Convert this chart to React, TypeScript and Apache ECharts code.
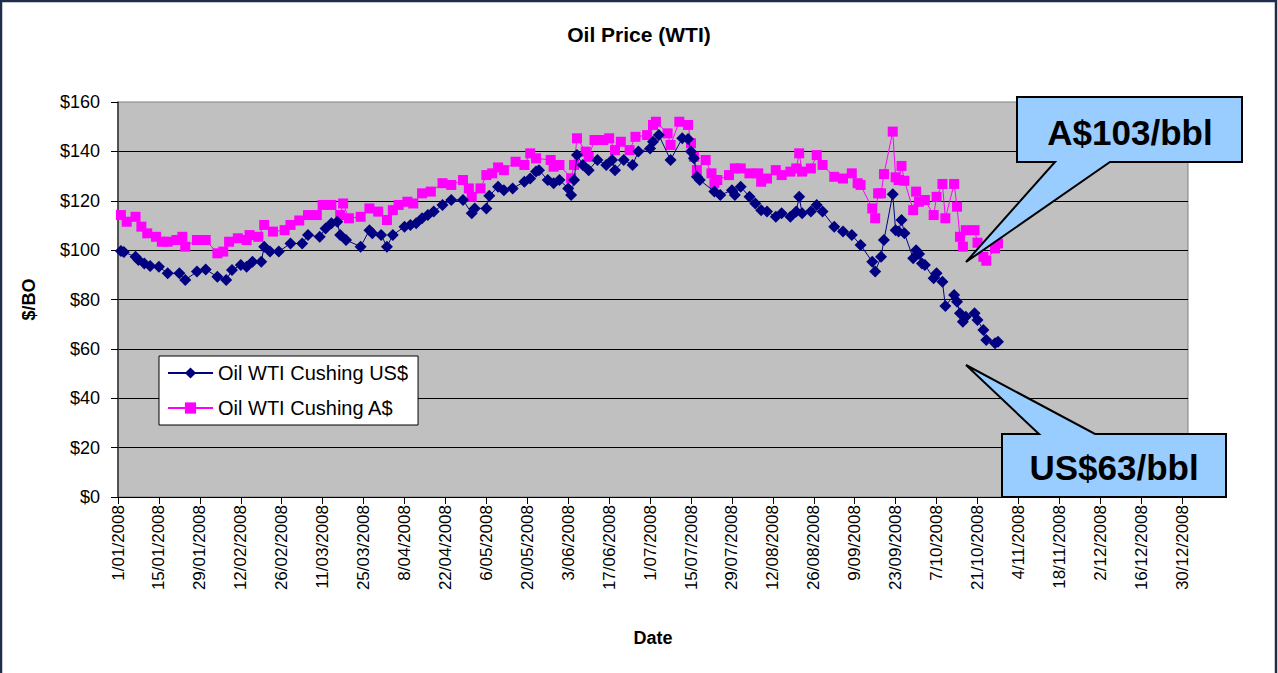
import React, { useEffect, useRef } from "react";
import * as echarts from "echarts";

const chartTitle = "Oil Price (WTI)";
const usName = "Oil WTI Cushing US$";
const audName = "Oil WTI Cushing A$";

const usDates = [
  "2008-01-02","2008-01-03","2008-01-07","2008-01-08","2008-01-10","2008-01-12","2008-01-15","2008-01-18","2008-01-22","2008-01-24",
  "2008-01-28","2008-01-31","2008-02-04","2008-02-07","2008-02-09","2008-02-12","2008-02-14","2008-02-16","2008-02-19","2008-02-20",
  "2008-02-22","2008-02-25","2008-02-29","2008-03-04","2008-03-06","2008-03-10","2008-03-12","2008-03-14","2008-03-16","2008-03-17",
  "2008-03-19","2008-03-24","2008-03-27","2008-03-28","2008-03-31","2008-04-02","2008-04-04","2008-04-08","2008-04-10","2008-04-12",
  "2008-04-14","2008-04-16","2008-04-18","2008-04-21","2008-04-24","2008-04-28","2008-05-01","2008-05-02","2008-05-06","2008-05-07",
  "2008-05-10","2008-05-12","2008-05-15","2008-05-19","2008-05-21","2008-05-23","2008-05-24","2008-05-27","2008-05-29","2008-05-31",
  "2008-06-03","2008-06-04","2008-06-05","2008-06-06","2008-06-08","2008-06-10","2008-06-13","2008-06-16","2008-06-18","2008-06-19",
  "2008-06-22","2008-06-25","2008-06-27","2008-07-01","2008-07-02","2008-07-04","2008-07-08","2008-07-12","2008-07-14","2008-07-15",
  "2008-07-16","2008-07-17","2008-07-18","2008-07-23","2008-07-25","2008-07-29","2008-07-30","2008-08-01","2008-08-04","2008-08-06",
  "2008-08-08","2008-08-10","2008-08-13","2008-08-15","2008-08-18","2008-08-20","2008-08-21","2008-08-22","2008-08-25","2008-08-27",
  "2008-08-29","2008-09-02","2008-09-05","2008-09-08","2008-09-11","2008-09-15","2008-09-16","2008-09-18","2008-09-19","2008-09-22",
  "2008-09-23","2008-09-24","2008-09-25","2008-09-26","2008-09-29","2008-09-30","2008-10-01","2008-10-02","2008-10-03","2008-10-06",
  "2008-10-07","2008-10-09","2008-10-10","2008-10-13","2008-10-14","2008-10-15","2008-10-16","2008-10-17","2008-10-20","2008-10-21",
  "2008-10-23","2008-10-24","2008-10-27","2008-10-28"
];
const usValues = [
  99.6,99.2,97.3,96.0,94.6,93.6,93.3,90.6,90.6,87.9,
  91.3,92.2,89.2,87.9,91.9,94.0,93.3,95.3,95.3,101.4,
  99.4,99.4,102.7,102.7,106.1,105.4,108.8,110.9,111.5,106.1,
  104.1,101.4,108.1,106.8,106.1,101.4,106.1,109.5,110.2,110.9,
  112.9,114.2,115.6,118.3,120.3,120.3,114.9,116.9,116.9,122.0,
  125.7,124.3,125.0,127.7,129.0,131.8,132.4,128.4,127.1,128.4,
  125.0,122.3,128.4,138.5,134.5,132.4,136.5,134.5,136.5,132.4,
  136.5,134.5,139.9,141.2,143.9,146.6,136.5,145.3,145.0,139.9,
  137.2,129.7,128.4,123.7,122.3,124.3,122.3,125.7,121.6,118.9,
  116.2,115.6,113.5,114.9,113.5,115.6,121.6,114.9,115.6,118.3,
  115.6,109.5,107.5,106.1,102.1,95.3,91.3,97.3,104.1,122.6,
  108.1,107.5,112.2,106.8,96.7,100.0,98.4,94.6,94.0,88.6,
  90.6,87.2,77.4,81.8,79.1,74.4,71.0,73.0,74.4,71.7,
  67.6,63.6,62.3,62.9
];

const audDates = [
  "2008-01-02","2008-01-04","2008-01-07","2008-01-09","2008-01-11","2008-01-14","2008-01-16","2008-01-18","2008-01-21","2008-01-23",
  "2008-01-24","2008-01-28","2008-01-31","2008-02-04","2008-02-06","2008-02-08","2008-02-11","2008-02-14","2008-02-15","2008-02-18",
  "2008-02-20","2008-02-23","2008-02-27","2008-02-29","2008-03-03","2008-03-06","2008-03-09","2008-03-11","2008-03-14","2008-03-17",
  "2008-03-18","2008-03-20","2008-03-24","2008-03-27","2008-03-30","2008-04-02","2008-04-04","2008-04-06","2008-04-09","2008-04-11",
  "2008-04-14","2008-04-17","2008-04-21","2008-04-24","2008-04-28","2008-04-30","2008-05-01","2008-05-04","2008-05-06","2008-05-08",
  "2008-05-10","2008-05-12","2008-05-16","2008-05-19","2008-05-21","2008-05-23","2008-05-28","2008-05-29","2008-05-31","2008-06-04",
  "2008-06-05","2008-06-06","2008-06-09","2008-06-10","2008-06-12","2008-06-15","2008-06-17","2008-06-19","2008-06-21","2008-06-24",
  "2008-06-26","2008-06-30","2008-07-02","2008-07-03","2008-07-07","2008-07-08","2008-07-11","2008-07-14","2008-07-15","2008-07-16",
  "2008-07-17","2008-07-20","2008-07-22","2008-07-23","2008-07-24","2008-07-28","2008-07-30","2008-08-01","2008-08-04","2008-08-07",
  "2008-08-08","2008-08-10","2008-08-13","2008-08-15","2008-08-18","2008-08-20","2008-08-21","2008-08-22","2008-08-25","2008-08-27",
  "2008-08-29","2008-09-02","2008-09-05","2008-09-08","2008-09-10","2008-09-11","2008-09-15","2008-09-16","2008-09-17","2008-09-18",
  "2008-09-19","2008-09-22","2008-09-23","2008-09-24","2008-09-25","2008-09-26","2008-09-29","2008-09-30","2008-10-01","2008-10-03",
  "2008-10-06","2008-10-07","2008-10-09","2008-10-10","2008-10-13","2008-10-14","2008-10-15","2008-10-16","2008-10-17","2008-10-20",
  "2008-10-21","2008-10-23","2008-10-24","2008-10-27","2008-10-28"
];
const audValues = [
  114.2,111.5,113.5,109.5,106.8,105.4,103.4,103.4,104.1,105.4,
  101.4,104.1,104.1,98.7,99.4,103.4,104.8,104.1,106.1,105.4,
  110.2,107.5,108.1,110.2,112.0,114.2,114.2,118.3,118.3,114.2,
  118.9,112.9,113.5,116.9,115.6,112.2,116.2,118.3,119.6,118.9,
  123.0,123.7,127.1,126.4,128.4,125.0,121.6,125.0,130.4,131.1,
  133.5,132.4,135.8,134.5,139.2,137.2,136.5,133.8,134.5,129.1,
  134.5,145.3,139.9,137.8,144.6,144.6,145.3,140.5,143.9,140.5,
  145.9,146.6,150.7,152.0,147.3,142.6,152.0,150.7,143.3,137.8,
  132.4,136.5,131.1,127.1,128.4,130.4,133.1,133.1,131.1,131.1,
  127.7,129.0,132.4,130.4,131.8,133.1,139.2,131.8,133.1,138.5,
  134.5,129.7,129.0,131.1,127.1,126.4,116.9,112.9,123.0,123.0,
  130.8,148.0,129.5,128.4,134.1,128.1,116.2,123.7,119.6,120.3,
  114.2,121.6,126.8,112.9,126.8,117.6,105.4,101.4,108.1,108.1,
  103.0,97.3,95.7,100.7,102.7
];

const calloutA = "A$103/bbl";
const calloutUS = "US$63/bbl";

const FONT = "'Liberation Sans', Arial, Helvetica, sans-serif";
const EPOCH = Date.UTC(2008, 0, 1);
const DAY = 86400000;
const toDay = (s: string) => (Date.parse(s) - EPOCH) / DAY;
const fmtDay = (v: number) => {
  const d = new Date(EPOCH + v * DAY);
  const m = d.getUTCMonth() + 1;
  return d.getUTCDate() + "/" + (m < 10 ? "0" + m : "" + m) + "/" + d.getUTCFullYear();
};

export default function App() {
  const ref = useRef<HTMLDivElement>(null);
  useEffect(() => {
    if (!ref.current) return;
    const chart = echarts.init(ref.current, undefined, { renderer: "svg" });
    const usData = usDates.map((d, i) => [toDay(d), usValues[i]]);
    const audData = audDates.map((d, i) => [toDay(d), audValues[i]]);
    chart.setOption({
      animation: false,
      backgroundColor: "#ffffff",
      textStyle: { fontFamily: FONT },
      title: {
        text: chartTitle,
        left: "center",
        top: 19,
        textStyle: { fontFamily: FONT, fontSize: 21, fontWeight: "bold", color: "#000" },
      },
      legend: {
        orient: "vertical",
        left: 159,
        top: 356,
        padding: [6, 10, 6, 8],
        itemGap: 13,
        itemWidth: 45,
        itemHeight: 14,
        backgroundColor: "#ffffff",
        borderColor: "#000000",
        borderWidth: 1,
        borderRadius: 0,
        textStyle: { fontFamily: FONT, fontSize: 20, color: "#000", lineHeight: 22 },
        data: [usName, audName],
      },
      grid: {
        left: 118,
        right: 90,
        top: 102,
        bottom: 176,
        show: true,
        backgroundColor: "#C0C0C0",
        borderColor: "#808080",
        borderWidth: 1,
      },
      xAxis: {
        type: "value",
        min: 0,
        max: 366,
        interval: 14,
        name: "Date",
        nameLocation: "middle",
        nameGap: 132,
        nameTextStyle: { fontFamily: FONT, fontSize: 18, fontWeight: "bold", color: "#000" },
        axisLine: { show: true, onZero: false, lineStyle: { color: "#000", width: 1 } },
        axisTick: { show: true, length: 7, lineStyle: { color: "#000" } },
        axisLabel: {
          rotate: 90,
          margin: 8,
          fontFamily: FONT,
          fontSize: 17,
          color: "#000",
          showMaxLabel: false,
          formatter: (v: number) => (v > 364 ? "" : fmtDay(v)),
        },
        splitLine: { show: false },
      },
      yAxis: {
        type: "value",
        min: 0,
        max: 160,
        interval: 20,
        name: "$/BO",
        nameLocation: "middle",
        nameGap: 80,
        nameTextStyle: { fontFamily: FONT, fontSize: 18, fontWeight: "bold", color: "#000" },
        axisLine: { show: true, lineStyle: { color: "#333", width: 1.5 } },
        axisTick: { show: true, length: 7, lineStyle: { color: "#000" } },
        axisLabel: {
          margin: 18,
          fontFamily: FONT,
          fontSize: 18,
          color: "#000",
          formatter: (v: number) => "$" + v,
        },
        splitLine: { show: true, showMinLine: false, showMaxLine: false, lineStyle: { color: "#000", width: 1 } },
      },
      series: [
        {
          name: usName,
          type: "line",
          data: usData,
          symbol: "diamond",
          symbolSize: 12,
          showAllSymbol: true,
          color: "#000080",
          itemStyle: { color: "#000080" },
          lineStyle: { color: "#000080", width: 1 },
          z: 3,
        },
        {
          name: audName,
          type: "line",
          data: audData,
          symbol: "rect",
          symbolSize: 10,
          showAllSymbol: true,
          color: "#FF00FF",
          itemStyle: { color: "#FF00FF" },
          lineStyle: { color: "#FF00FF", width: 1 },
          z: 2,
        },
      ],
      graphic: [
        {
          type: "polygon",
          z: 100,
          shape: {
            points: [
              [1017, 97], [1242, 97], [1242, 162], [1110, 162], [966, 262], [1055, 162], [1017, 162],
            ],
          },
          style: { fill: "#99CCFF", stroke: "#000", lineWidth: 2 },
        },
        {
          type: "text",
          z: 101,
          x: 1130,
          y: 132,
          style: {
            text: calloutA,
            fontFamily: FONT,
            fontSize: 35,
            fontWeight: "bold",
            fill: "#000",
            align: "center",
            verticalAlign: "middle",
          },
        },
        {
          type: "polygon",
          z: 100,
          shape: {
            points: [
              [1002, 434], [1039, 434], [966, 365], [1095, 434], [1226, 434], [1226, 497], [1002, 497],
            ],
          },
          style: { fill: "#99CCFF", stroke: "#000", lineWidth: 2 },
        },
        {
          type: "text",
          z: 101,
          x: 1114,
          y: 467,
          style: {
            text: calloutUS,
            fontFamily: FONT,
            fontSize: 35,
            fontWeight: "bold",
            fill: "#000",
            align: "center",
            verticalAlign: "middle",
          },
        },
        {
          type: "rect",
          z: 110,
          silent: true,
          shape: { x: 1, y: 1, width: 1275, height: 690 },
          style: { fill: "none", stroke: "#1f2d4d", lineWidth: 2.5 },
        },
      ],
    });
    return () => chart.dispose();
  }, []);
  return (
    <div
      ref={ref}
      style={{ position: "fixed", left: 0, top: 0, width: 1278, height: 673, background: "#fff" }}
    />
  );
}
